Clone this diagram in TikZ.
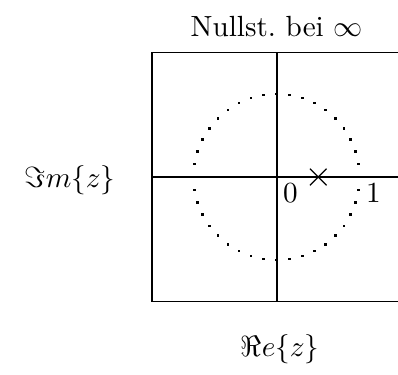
\documentclass[tikz,border=0pt]{standalone}
\usepackage{amsmath}
\usepackage{amssymb}

\begin{document}
\begin{tikzpicture}[
  frame/.style={semithick},
  realaxis/.style={thin},
  imagaxis/.style={semithick},
  pt/.style={inner sep=2pt},
]
  \useasboundingbox (-3.334,-2.373) rectangle (1.461,2.133);

  % Rahmen und Achsen
  \draw[frame] (-1.5,-1.5) rectangle (1.5,1.5);
  \draw[realaxis] (-1.5,0) -- (1.5,0);
  \draw[imagaxis] (0,-1.5) -- (0,1.5);

  % Einheitskreis (punktiert)
  \foreach \a in {0,9,...,351}
    \fill (\a:1) ++(-0.45pt,-0.45pt) rectangle ++(0.9pt,0.9pt);

  % Pol
  \draw (0.4,-0.1) -- (0.6,0.1) (0.4,0.1) -- (0.6,-0.1);

  \node[pt,anchor=north west] (zero) at (0,0) {$0$};
  \node[pt,anchor=north west] (one) at (1,0) {$1$};

  \node (title) at (0,1.81) {Nullst.\ bei $\infty$};
  \node (im) at (-2.49,-0.04) {$\Im m\{z\}$};
  \node (re) at (0.04,-2.08) {$\Re e\{z\}$};
\end{tikzpicture}
\end{document}
